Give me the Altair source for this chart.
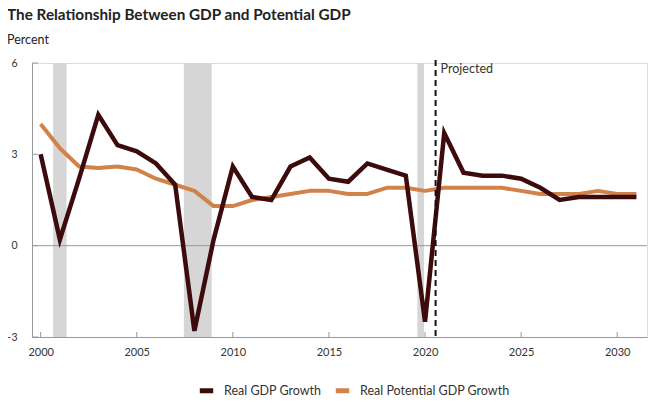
import altair as alt
import pandas as pd

years = list(range(2000, 2032))
real_gdp = [3.0, 0.2, 2.2, 4.3, 3.3, 3.1, 2.7, 2.0, -2.8, 0.2, 2.6, 1.6, 1.5, 2.6, 2.9, 2.2,
            2.1, 2.7, 2.5, 2.3, -2.5, 3.7, 2.4, 2.3, 2.3, 2.2, 1.9, 1.5, 1.6, 1.6, 1.6, 1.6]
potential_gdp = [4.0, 3.2, 2.6, 2.55, 2.6, 2.5, 2.2, 2.0, 1.8, 1.3, 1.3, 1.5, 1.6, 1.7, 1.8, 1.8,
                 1.7, 1.7, 1.9, 1.9, 1.8, 1.9, 1.9, 1.9, 1.9, 1.8, 1.7, 1.7, 1.7, 1.8, 1.7, 1.7]
rec_start = [2000.65, 2007.45, 2019.6]
rec_end = [2001.35, 2008.9, 2019.95]
projected_start = [2020.55]
y_ticks = [-3, 0, 3, 6]
x_ticks = [2000, 2005, 2010, 2015, 2020, 2025, 2030]
series_names = ["Real GDP Growth", "Real Potential GDP Growth"]
series_colors = ["#3d0b0b", "#d1824a"]

W, H = 615, 274
FONT = "Lato"
XDOM = [1999.55, 2031.55]
YDOM = [-3, 6]

df_real = pd.DataFrame({"year": years, "value": real_gdp, "series": series_names[0]})
df_pot = pd.DataFrame({"year": years, "value": potential_gdp, "series": series_names[1]})
df_rec = pd.DataFrame({"start": rec_start, "end": rec_end})
df_proj = pd.DataFrame({"year": projected_start, "label": ["Projected"]})

xscale = alt.Scale(domain=XDOM, nice=False, zero=False)
yscale = alt.Scale(domain=YDOM, nice=False, zero=False)
color_scale = alt.Scale(domain=series_names, range=series_colors)

bands = alt.Chart(df_rec).mark_rect(color="#d6d6d6").encode(
    x=alt.X("start:Q", scale=xscale,
            axis=alt.Axis(values=x_ticks, format="d", ticks=False, grid=False,
                          domainColor="#999999", labelFont=FONT, labelFontSize=11,
                          labelColor="#333333", labelPadding=9), title=None),
    x2="end:Q",
    y=alt.value(0),
    y2=alt.value(H),
)

zero = alt.Chart(pd.DataFrame({"v": [0]})).mark_rule(color="#999999", strokeWidth=1).encode(
    y=alt.Y("v:Q", scale=yscale,
            axis=alt.Axis(values=y_ticks, ticks=False, grid=False, domainColor="#999999",
                          labelFont=FONT, labelFontSize=10.5, labelColor="#333333",
                          labelPadding=15), title=None),
    x=alt.value(0), x2=alt.value(W),
)

yticks = alt.Chart(pd.DataFrame({"v": y_ticks})).mark_rule(color="#999999").encode(
    y=alt.Y("v:Q", scale=yscale), x=alt.value(0), x2=alt.value(6))

xticks = alt.Chart(pd.DataFrame({"v": x_ticks})).mark_rule(color="#999999").encode(
    x=alt.X("v:Q", scale=xscale), y=alt.value(H - 5), y2=alt.value(H))

legend = alt.Legend(orient="none", legendX=165, legendY=318, direction="horizontal",
                    title=None, symbolType="stroke", symbolStrokeWidth=5, symbolSize=180,
                    labelFont=FONT, labelFontSize=12.5, labelColor="#333333",
                    columnPadding=3, labelOffset=8, padding=0)

pot_line = alt.Chart(df_pot).mark_line(strokeWidth=4, strokeJoin="round").encode(
    x=alt.X("year:Q", scale=xscale), y=alt.Y("value:Q", scale=yscale),
    color=alt.Color("series:N", scale=color_scale, legend=legend))

real_line = alt.Chart(df_real).mark_line(strokeWidth=4.5, strokeJoin="miter").encode(
    x=alt.X("year:Q", scale=xscale), y=alt.Y("value:Q", scale=yscale),
    color=alt.Color("series:N", scale=color_scale, legend=legend))

proj_rule = alt.Chart(df_proj).mark_rule(color="#111111", strokeWidth=2, strokeDash=[6, 4]).encode(
    x=alt.X("year:Q", scale=xscale), y=alt.value(-3), y2=alt.value(H))

proj_text = alt.Chart(df_proj).mark_text(align="left", baseline="middle", font=FONT,
                                         fontSize=12.5, color="#333333", dx=5).encode(
    x=alt.X("year:Q", scale=xscale), y=alt.value(6), text="label:N")

title = alt.Chart(pd.DataFrame({"t": ["The Relationship Between GDP and Potential GDP"]})).mark_text(
    align="left", baseline="alphabetic", font=FONT, fontSize=15.3, fontWeight="bold",
    color="#222222").encode(x=alt.value(-25), y=alt.value(-43), text="t:N")

ylabel = alt.Chart(pd.DataFrame({"t": ["Percent"]})).mark_text(
    align="left", baseline="alphabetic", font=FONT, fontSize=12.5,
    color="#222222").encode(x=alt.value(-25), y=alt.value(-19), text="t:N")

chart = alt.layer(bands, zero, yticks, xticks, pot_line, real_line, proj_rule, proj_text,
                  title, ylabel).properties(
    width=W, height=H,
    autosize=alt.AutoSizeParams(type="none"),
    padding={"left": 24, "top": 55, "right": 3, "bottom": 60},
).configure_view(stroke=None).configure(font=FONT)

chart.save("out.html", embed_options={"renderer": "svg", "actions": False})
